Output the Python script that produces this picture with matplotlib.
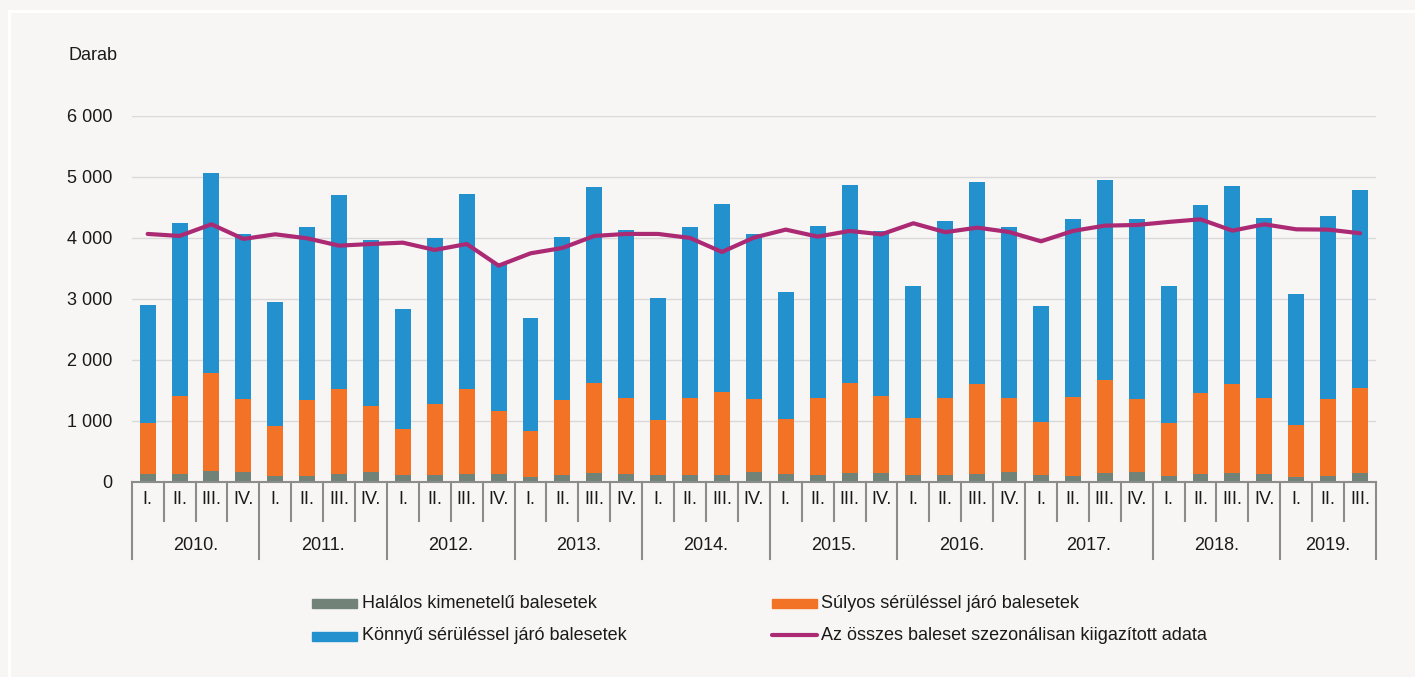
import matplotlib
matplotlib.use("Agg")
import matplotlib.pyplot as plt
from matplotlib.patches import Rectangle
from matplotlib.lines import Line2D
from matplotlib.ticker import FuncFormatter, MultipleLocator
import numpy as np

plt.rcParams['font.family'] = ['Liberation Sans', 'DejaVu Sans']
FS = 13

years = ["2010.", "2011.", "2012.", "2013.", "2014.", "2015.", "2016.", "2017.", "2018.", "2019."]
quarter_names = ["I.", "II.", "III.", "IV."]
quarters = [q for y in years for q in quarter_names][:39]

fatal = [126, 126, 175, 164, 93, 93, 126, 164, 109, 109, 126, 126,
         77, 109, 142, 126, 109, 109, 109, 164, 126, 109, 142, 142,
         109, 109, 126, 164, 109, 93, 142, 164, 93, 126, 142, 126,
         77, 93, 142]
fatal_plus_serious = [963, 1411, 1783, 1357, 919, 1346, 1521, 1247, 864, 1280, 1521, 1160,
                      832, 1346, 1619, 1379, 1018, 1379, 1477, 1357, 1028, 1379, 1619, 1411,
                      1050, 1379, 1603, 1379, 985, 1395, 1674, 1357, 963, 1455, 1603, 1379,
                      930, 1357, 1543]
totals = [2899, 4245, 5066, 4065, 2949, 4179, 4705, 3966, 2834, 3999, 4721, 3580,
          2686, 4015, 4836, 4130, 3014, 4179, 4557, 4065, 3113, 4196, 4869, 4114,
          3211, 4278, 4918, 4179, 2883, 4311, 4951, 4311, 3211, 4540, 4852, 4327,
          3080, 4360, 4787]
seasonal = [4065, 4032, 4223, 3983, 4059, 3993, 3873, 3900, 3922, 3802, 3900, 3545,
            3747, 3835, 4032, 4065, 4065, 3999, 3769, 4004, 4136, 4021, 4114, 4059,
            4240, 4094, 4168, 4097, 3944, 4114, 4201, 4212, 4262, 4305, 4119, 4223,
            4141, 4136, 4076]

serious = [a - b for a, b in zip(fatal_plus_serious, fatal)]
light = [t - a for t, a in zip(totals, fatal_plus_serious)]

labels = ["Halálos kimenetelű balesetek", "Súlyos sérüléssel járó balesetek",
          "Könnyű sérüléssel járó balesetek", "Az összes baleset szezonálisan kiigazított adata"]

C_FATAL = "#718379"
C_SER = "#f37326"
C_LIGHT = "#2391cd"
C_LINE = "#ab2a73"
BG = "#f7f6f4"
TXT = "#1a1a1a"

W, H = 1415, 677
fig = plt.figure(figsize=(W / 100, H / 100), dpi=100, facecolor=BG)

def fx(x):
    return x / W

def fy(y):
    return 1 - y / H

# white frame
fig.add_artist(Line2D([fx(9), fx(9)], [fy(11), fy(H + 5)], color="white", lw=2, transform=fig.transFigure))
fig.add_artist(Line2D([fx(9), fx(W + 5)], [fy(11), fy(11)], color="white", lw=2, transform=fig.transFigure))

ax_l, ax_r, ax_t, ax_b = 131.7, 1376, 116, 481.7
ax = fig.add_axes([fx(ax_l), fy(ax_b), fx(ax_r - ax_l), (ax_b - ax_t) / H])
ax.set_facecolor(BG)

x = np.arange(len(quarters))
ax.bar(x, fatal, width=0.5, color=C_FATAL, zorder=2)
ax.bar(x, serious, width=0.5, bottom=fatal, color=C_SER, zorder=2)
ax.bar(x, light, width=0.5, bottom=fatal_plus_serious, color=C_LIGHT, zorder=2)
ax.plot(x, seasonal, color=C_LINE, lw=3, zorder=3, solid_capstyle="round", solid_joinstyle="round")

ax.set_xlim(-0.5, len(quarters) - 0.5)
ax.set_ylim(0, 6000)
ax.yaxis.set_major_locator(MultipleLocator(1000))
ax.yaxis.set_major_formatter(FuncFormatter(lambda v, p: f"{int(v):,}".replace(",", " ")))
ax.grid(axis="y", color="#d9d9d9", lw=1, zorder=0)
for s in ["top", "right", "left"]:
    ax.spines[s].set_visible(False)
ax.spines["bottom"].set_color("#8c8c8c")
ax.spines["bottom"].set_linewidth(1.5)
ax.spines["bottom"].set_zorder(4)
ax.tick_params(axis="y", length=0, pad=14, labelsize=FS, labelcolor=TXT)
ax.set_xticks([])

# category axis table
tr = ax.get_xaxis_transform()
h_px = ax_b - ax_t
def ay(ypix):
    return (ax_b - ypix) / h_px

nq = len(quarters)
for b in range(nq + 1):
    xb = b - 0.5
    long = (b % 4 == 0) or (b == nq)
    y_end = ay(559) if long else ay(521)
    ax.add_line(Line2D([xb, xb], [0, y_end], color="#8c8c8c", lw=1.5, transform=tr, clip_on=False))
for i, q in enumerate(quarters):
    ax.text(i, ay(500), q, transform=tr, ha="center", va="center", fontsize=FS, color=TXT)
for j, yr in enumerate(years):
    start = j * 4
    end = min(start + 4, nq)
    ax.text((start + end - 1) / 2, ay(546), yr, transform=tr, ha="center", va="center",
            fontsize=FS, color=TXT)

fig.text(fx(68), fy(55), "Darab", ha="left", va="center", fontsize=FS, color=TXT)

# legend
def patch(x0, yc, color):
    fig.add_artist(Rectangle((fx(x0), fy(yc + 4.5)), fx(45), 9 / H, color=color,
                             transform=fig.transFigure))

patch(312, 603, C_FATAL)
fig.text(fx(362), fy(603), labels[0], ha="left", va="center", fontsize=FS, color=TXT)
patch(312, 636, C_LIGHT)
fig.text(fx(362), fy(636), labels[2], ha="left", va="center", fontsize=FS, color=TXT)
patch(772, 603, C_SER)
fig.text(fx(821), fy(603), labels[1], ha="left", va="center", fontsize=FS, color=TXT)
fig.add_artist(Line2D([fx(772), fx(817)], [fy(635), fy(635)], color=C_LINE, lw=3,
                      solid_capstyle="round", transform=fig.transFigure))
fig.text(fx(821), fy(636), labels[3], ha="left", va="center", fontsize=FS, color=TXT)

fig.savefig("out.png", dpi=100, facecolor=BG)
